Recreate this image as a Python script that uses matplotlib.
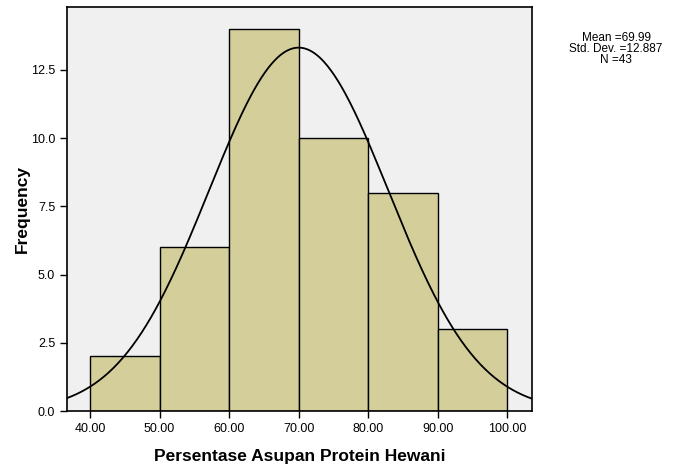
import numpy as np
import matplotlib
matplotlib.use("Agg")
import matplotlib.pyplot as plt
from matplotlib.ticker import FormatStrFormatter

plt.rcParams['font.family'] = ['Liberation Sans', 'DejaVu Sans']

bin_edges = [40, 50, 60, 70, 80, 90, 100]
counts = [2, 6, 14, 10, 8, 3]
mean = 69.99
std = 12.887
n = 43
x_ticks = [40, 50, 60, 70, 80, 90, 100]
y_ticks = [0.0, 2.5, 5.0, 7.5, 10.0, 12.5]

fig = plt.figure(figsize=(6.74, 4.70), dpi=100)
ax = fig.add_axes([67/674, 59/470, 464.5/674, 404/470])
ax.set_facecolor('#F0F0F0')

widths = np.diff(bin_edges)
ax.bar(bin_edges[:-1], counts, width=widths, align='edge',
       color='#D3CE9A', edgecolor='black', linewidth=1.0, zorder=2)

xs = np.linspace(36.7, 103.45, 400)
bw = bin_edges[1] - bin_edges[0]
ys = n * bw / (std * np.sqrt(2 * np.pi)) * np.exp(-0.5 * ((xs - mean) / std) ** 2)
ax.plot(xs, ys, color='black', linewidth=1.3, zorder=3)

ax.set_xlim(36.7, 103.45)
ax.set_ylim(0, 14.8)
ax.set_xticks(x_ticks)
ax.set_yticks(y_ticks)
ax.xaxis.set_major_formatter(FormatStrFormatter('%.2f'))
ax.yaxis.set_major_formatter(FormatStrFormatter('%.1f'))
ax.tick_params(axis='both', direction='out', length=5, width=1, labelsize=9, colors='black')
for s in ax.spines.values():
    s.set_linewidth(1.2)
    s.set_color('black')

ax.set_xlabel('Persentase Asupan Protein Hewani', fontsize=12.5, fontweight='bold', labelpad=10)
ax.set_ylabel('Frequency', fontsize=12.5, fontweight='bold', labelpad=1)

fig.text(616/674, 1 - 49/470, 'Mean =%.2f\nStd. Dev. =%.3f\nN =%d' % (mean, std, n),
         ha='center', va='center', fontsize=8.5, linespacing=0.9)

fig.savefig('out.png', dpi=100)
